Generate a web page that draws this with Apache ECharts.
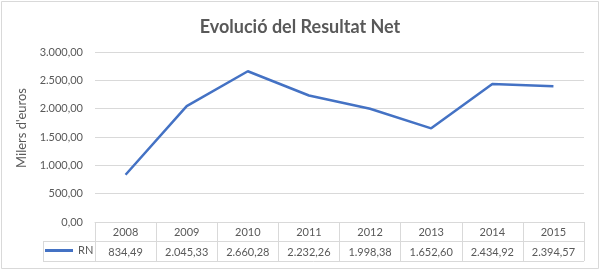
<!DOCTYPE html>
<html><head><meta charset="utf-8">
<script src="https://cdn.jsdelivr.net/npm/echarts@6/dist/echarts.min.js"></script>
<style>html,body{margin:0;padding:0;background:#fff}#c{width:600px;height:270px}</style>
</head><body><div id="c"></div>
<script>
const categories = ['2008','2009','2010','2011','2012','2013','2014','2015'];
const rnValues = [834.49, 2045.33, 2660.28, 2232.26, 1998.38, 1652.60, 2434.92, 2394.57];
const yTicks = [0, 500, 1000, 1500, 2000, 2500, 3000];

function fmt(v){
  const parts = v.toFixed(2).split('.');
  const int = parts[0].replace(/\B(?=(\d{3})+(?!\d))/g, '.');
  return int + ',' + parts[1];
}
const FONT = 'Lato, "Open Sans", sans-serif';
const TXT = '#595959';
const GRID = '#d9d9d9';
const L = 95, R = 16, T = 52, B = 48;
const W = 600, H = 270;
const axisY = H - B;

const chart = echarts.init(document.getElementById('c'), null, {renderer:'canvas'});
chart.setOption({
  animation: false,
  backgroundColor: '#fff',
  title: {
    text: 'Evolució del Resultat Net', left: 'center', top: 13,
    textStyle: {fontFamily: FONT, fontSize: 18, fontWeight: 'bold', color: TXT}
  },
  grid: {left: L, right: R, top: T, bottom: B},
  legend: {
    data: ['RN'], left: 45, top: axisY + 23, padding: 0, icon: 'rect', itemWidth: 28, itemHeight: 3, itemGap: 0,
    textStyle: {fontFamily: FONT, fontSize: 11, color: TXT}
  },
  xAxis: {
    type: 'category', data: categories, boundaryGap: true,
    axisLine: {show: true, lineStyle: {color: GRID}},
    axisTick: {show: true, length: 39, interval: 0, lineStyle: {color: GRID}},
    axisLabel: {
      margin: 0, interval: 0,
      formatter: function(val, idx){ return '{y|' + val + '}\n{v|' + fmt(rnValues[idx]) + '}'; },
      rich: {
        y: {fontFamily: FONT, fontSize: 11, color: TXT, lineHeight: 20, height: 20},
        v: {fontFamily: FONT, fontSize: 11, color: TXT, lineHeight: 20, height: 20}
      }
    }
  },
  yAxis: {
    type: 'value', min: yTicks[0], max: yTicks[yTicks.length-1], interval: yTicks[1]-yTicks[0],
    name: "Milers d'euros", nameLocation: 'middle', nameGap: 67, nameRotate: 90,
    nameTextStyle: {fontFamily: FONT, fontSize: 13, color: TXT, padding: [0, 0, 0, 18]},
    axisLine: {show: false}, axisTick: {show: false},
    axisLabel: {fontFamily: FONT, fontSize: 11, color: TXT, margin: 12, formatter: v => fmt(v)},
    splitLine: {lineStyle: {color: GRID}}
  },
  series: [{
    name: 'RN', type: 'line', data: rnValues, symbol: 'none',
    lineStyle: {color: '#4472C4', width: 2.5}, itemStyle: {color: '#4472C4'}
  }],
  graphic: [
    {type: 'rect', shape: {x: 1.5, y: 1.5, width: W - 3, height: H - 3}, style: {fill: null, stroke: GRID, lineWidth: 1}, silent: true},
    {type: 'line', shape: {x1: 43, y1: axisY + 19.5, x2: W - R, y2: axisY + 19.5}, style: {stroke: GRID, lineWidth: 1}, silent: true},
    {type: 'line', shape: {x1: 43, y1: axisY + 39.5, x2: W - R, y2: axisY + 39.5}, style: {stroke: GRID, lineWidth: 1}, silent: true},
    {type: 'line', shape: {x1: 43.5, y1: axisY + 19.5, x2: 43.5, y2: axisY + 39.5}, style: {stroke: GRID, lineWidth: 1}, silent: true}
  ]
});
</script></body></html>
